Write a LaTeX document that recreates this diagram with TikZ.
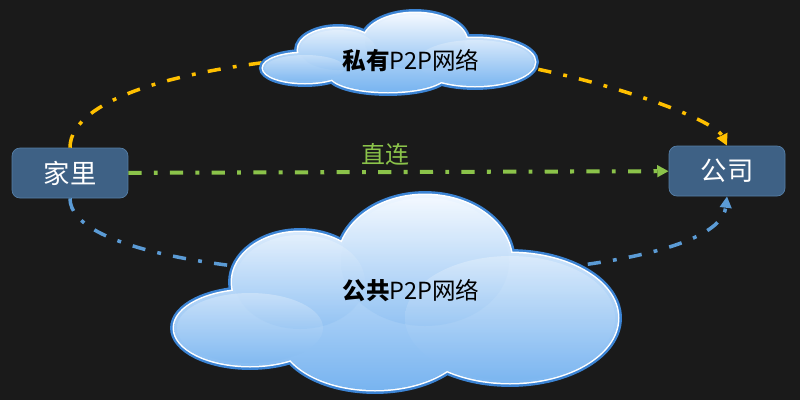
\documentclass[tikz,border=0pt]{standalone}
\usepackage{fontspec}
\setmainfont{Noto Sans CJK SC}
\usepackage{xcolor}
\usepackage{tikz}
\usetikzlibrary{arrows.meta}
\definecolor{bgdark}{HTML}{1A1A1A}
\definecolor{boxfill}{HTML}{3E6185}
\definecolor{boxline}{HTML}{557EA6}
\definecolor{pathyellow}{HTML}{FFC000}
\definecolor{pathgreen}{HTML}{8BC34A}
\definecolor{pathblue}{HTML}{5B9BD5}
\definecolor{cloudtop}{HTML}{EEF6FF}
\definecolor{cloudbot}{HTML}{78B4F0}
\definecolor{cloudrim}{HTML}{3C84D4}

\begin{document}
\begin{tikzpicture}[x=0.02cm,y=-0.02cm]
%
\tikzstyle{place}=[draw=boxline,fill=boxfill,rounded corners=0.16cm,minimum width=2.32cm,minimum height=1cm,inner sep=0pt,text=white,font=\fontsize{15}{18}\selectfont]
\tikzstyle{link}=[line width=2pt,dash pattern=on 7.5pt off 7pt on 2.2pt off 7pt,-{Triangle[length=6.5pt,width=6.5pt]}]
\tikzstyle{rim}=[draw=cloudrim,line width=1.4pt,double=white,double distance=1.7pt]
\tikzstyle{base}=[top color=cloudtop,bottom color=cloudbot]
\tikzstyle{lobe}=[top color=white,bottom color=cloudbot,opacity=0.3]
\tikzstyle{netlabel}=[font=\fontsize{13.4}{16}\selectfont,text=black]
%
\fill[bgdark] (0,0) rectangle (800,400);
%
\node[place](home) at (70,173){家里};
\node[place](office) at (727,171){公司};
%
\draw[link,pathyellow] (home.north) .. controls (70,100) and (180,60) .. (400,52)
  .. controls (540,55) and (712,115) .. (office.north);
\draw[link,pathblue] (home.south) .. controls (70,300) and (715,300) .. (office.south);
%
% private cloud
\draw[rim] (415,42) ellipse [x radius=52, y radius=29] (338,50) ellipse [x radius=40, y radius=22]
  (388,75) ellipse [x radius=58, y radius=17] (475,62) ellipse [x radius=60, y radius=24]
  (305,68) ellipse [x radius=42, y radius=15];
\shade[base] (415,42) ellipse [x radius=52, y radius=29] (338,50) ellipse [x radius=40, y radius=22]
  (388,75) ellipse [x radius=58, y radius=17] (475,62) ellipse [x radius=60, y radius=24]
  (305,68) ellipse [x radius=42, y radius=15];
\shade[lobe] (415,42) ellipse [x radius=50, y radius=27];
\shade[lobe] (338,50) ellipse [x radius=38, y radius=20];
\shade[lobe] (475,62) ellipse [x radius=58, y radius=22];
\shade[lobe] (305,68) ellipse [x radius=40, y radius=13];
\node[netlabel](privnet) at (411,61){\textbf{私有}P2P网络};
%
% public cloud
\draw[rim] (425,262) ellipse [x radius=87, y radius=67] (300,282) ellipse [x radius=68, y radius=50]
  (375,335) ellipse [x radius=95, y radius=55] (510,318) ellipse [x radius=108, y radius=65]
  (250,328) ellipse [x radius=76, y radius=38];
\shade[base] (425,262) ellipse [x radius=87, y radius=67] (300,282) ellipse [x radius=68, y radius=50]
  (375,335) ellipse [x radius=95, y radius=55] (510,318) ellipse [x radius=108, y radius=65]
  (250,328) ellipse [x radius=76, y radius=38];
\shade[lobe] (425,262) ellipse [x radius=84, y radius=64];
\shade[lobe] (300,282) ellipse [x radius=65, y radius=47];
\shade[lobe] (510,318) ellipse [x radius=105, y radius=62];
\shade[lobe] (250,328) ellipse [x radius=73, y radius=35];
\node[netlabel](pubnet) at (411,291){\textbf{公共}P2P网络};
%
\draw[link,pathgreen,line width=2.3pt] (home) -- (office);
\node[text=pathgreen,font=\fontsize{13.6}{16}\selectfont](direct) at (385,154){直连};
\end{tikzpicture}
\end{document}
